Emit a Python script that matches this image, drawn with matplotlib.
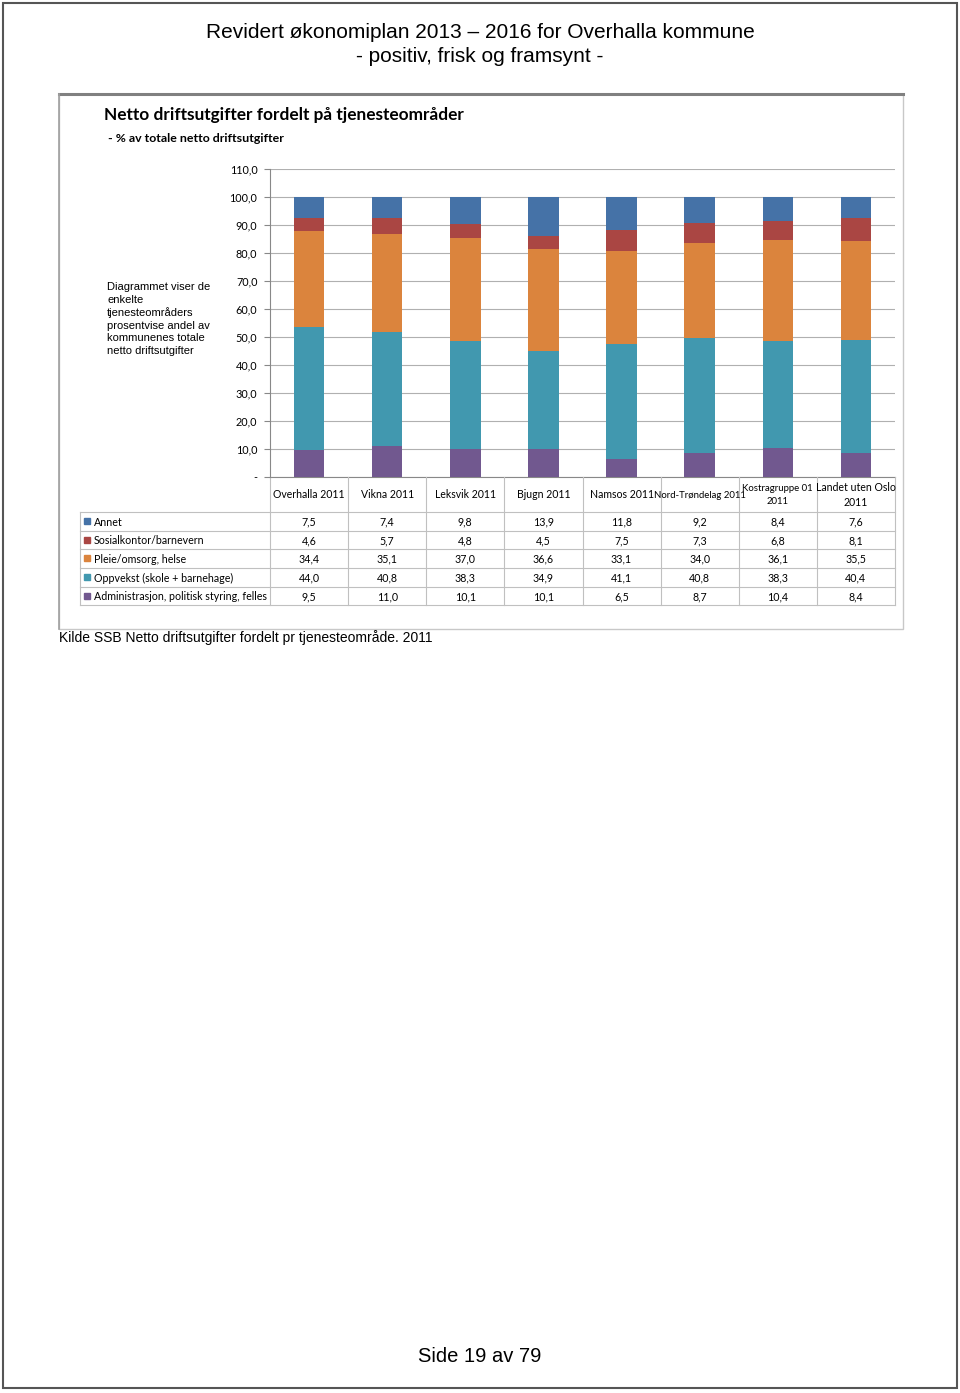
import numpy as np
import matplotlib
matplotlib.use("Agg")
import matplotlib.pyplot as plt

categories = ["Overhalla 2011", "Vikna 2011", "Leksvik 2011", "Bjugn 2011", "Namsos 2011",
              "Nord-Trøndelag 2011", "Kostragruppe 01\n2011", "Landet uten Oslo\n2011"]
# series, top of table first
series = ["Annet", "Sosialkontor/barnevern", "Pleie/omsorg, helse",
          "Oppvekst (skole + barnehage)", "Administrasjon, politisk styring, felles"]
annet = [7.5, 7.4, 9.8, 13.9, 11.8, 9.2, 8.4, 7.6]
sosial = [4.6, 5.7, 4.8, 4.5, 7.5, 7.3, 6.8, 8.1]
pleie = [34.4, 35.1, 37.0, 36.6, 33.1, 34.0, 36.1, 35.5]
oppvekst = [44.0, 40.8, 38.3, 34.9, 41.1, 40.8, 38.3, 40.4]
admin = [9.5, 11.0, 10.1, 10.1, 6.5, 8.7, 10.4, 8.4]
values = [annet, sosial, pleie, oppvekst, admin]
colors = ["#4572A7", "#AA4643", "#DB843D", "#4198AF", "#71588F"]
yticks = np.arange(0, 111, 10)

W, H = 960, 1393
fig = plt.figure(figsize=(W / 100, H / 100), dpi=100)

# overlay in pixel coordinates
ov = fig.add_axes([0, 0, 1, 1])
ov.set_xlim(0, W)
ov.set_ylim(H, 0)
ov.axis("off")

# page border
ov.add_patch(plt.Rectangle((3, 3), 954, 1385, fill=False, ec="#555555", lw=1.5))
ov.text(480, 32, "Revidert økonomiplan 2013 – 2016 for Overhalla kommune", ha="center", va="center",
        fontsize=15, family="Liberation Sans")
ov.text(480, 57, "- positiv, frisk og framsynt -", ha="center", va="center",
        fontsize=15, family="Liberation Sans")

# chart frame
ov.add_patch(plt.Rectangle((59, 94), 844, 535, fill=False, ec="#c8c8c8", lw=1))
ov.plot([59, 903], [94, 94], color="#808080", lw=2.2)
ov.plot([59, 59], [94, 629], color="#a0a0a0", lw=1.2)

ov.text(104, 115, "Netto driftsutgifter fordelt på tjenesteområder", ha="left", va="center",
        fontsize=12.4, fontweight="bold", family="Lato")
ov.text(108, 138, "- % av totale netto driftsutgifter", ha="left", va="center",
        fontsize=8.9, fontweight="bold", family="Lato")
ov.text(107, 282, "Diagrammet viser de\nenkelte\ntjenesteområders\nprosentvise andel av\nkommunenes totale\nnetto driftsutgifter",
        ha="left", va="top", fontsize=8, family="Liberation Sans", linespacing=1.32)

# bar chart
x0, x1, ytop, ybot = 270, 895, 169, 477
ax = fig.add_axes([x0 / W, 1 - ybot / H, (x1 - x0) / W, (ybot - ytop) / H])
xpos = np.arange(len(categories))
bottom = np.zeros(len(categories))
for vals, col in zip(values[::-1], colors[::-1]):
    ax.bar(xpos, vals, width=0.39, bottom=bottom, color=col, zorder=3)
    bottom += np.array(vals)
ax.set_xlim(-0.5, len(categories) - 0.5)
ax.set_ylim(0, 110)
ax.set_yticks(yticks)
ax.set_yticklabels(["-"] + [f"{v:.1f}".replace(".", ",") for v in yticks[1:]],
                   fontsize=7.8, family="Lato")
ax.tick_params(axis="y", length=4, color="#888888", pad=5)
ax.set_xticks([])
ax.grid(axis="y", color="#b0b0b0", lw=0.8, zorder=0)
for s in ["top", "right", "bottom"]:
    ax.spines[s].set_visible(False)
ax.spines["left"].set_color("#888888")
ax.patch.set_alpha(0)

# data table
colw = (x1 - x0) / len(categories)
row_edges = [512, 530.5, 549, 568, 586.5, 605]
ov.plot([x0, x1], [ybot, ybot], color="#888888", lw=0.8)
for i in range(len(categories) + 1):
    xx = x0 + i * colw
    ov.plot([xx, xx], [ybot, 605], color="#c0c0c0", lw=0.8)
ov.plot([80, 80], [512, 605], color="#c0c0c0", lw=0.8)
for yy in row_edges:
    ov.plot([80, x1], [yy, yy], color="#c0c0c0", lw=0.8)
for i, c in enumerate(categories):
    cx = x0 + (i + 0.5) * colw
    fs = 6.9 if i in (5, 6) else 7.6
    ov.text(cx, 495, c, ha="center", va="center", fontsize=fs, family="Lato", linespacing=1.55)
for r, (name, vals, col) in enumerate(zip(series, values, colors)):
    cy = (row_edges[r] + row_edges[r + 1]) / 2 + 0.8
    ov.add_patch(plt.Rectangle((84, cy - 4), 6, 6, color=col))
    ov.text(94, cy, name, ha="left", va="center", fontsize=7.7, family="Lato")
    for i, v in enumerate(vals):
        ov.text(x0 + (i + 0.5) * colw, cy, f"{v:.1f}".replace(".", ","), ha="center", va="center",
                fontsize=7.7, family="Lato")

ov.text(59, 638, "Kilde SSB Netto driftsutgifter fordelt pr tjenesteområde. 2011", ha="left", va="center",
        fontsize=10, family="Liberation Sans")
ov.text(480, 1356, "Side 19 av 79", ha="center", va="center", fontsize=14.5, family="Liberation Sans")

fig.savefig("out.png", dpi=100)
